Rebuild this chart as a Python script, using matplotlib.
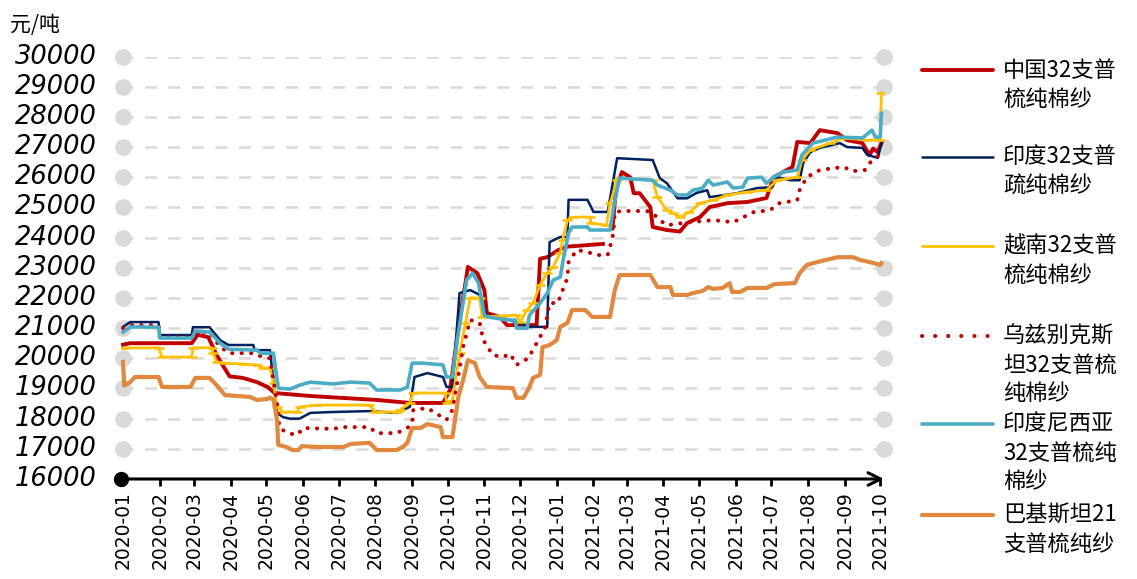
import numpy as np
import pandas as pd
import matplotlib
matplotlib.use("Agg")
import matplotlib.pyplot as plt
import matplotlib.dates as mdates
from matplotlib.lines import Line2D
from matplotlib import font_manager as fm

plt.rcParams['font.family'] = ['Noto Sans CJK SC', 'DejaVu Sans']

# ---- data (元/吨) ----
china_32 = [("2020-01-01", 20450), ("2020-01-07", 20500), ("2020-02-28", 20500), ("2020-03-04", 20780),
            ("2020-03-13", 20700), ("2020-03-20", 20100), ("2020-03-27", 19650), ("2020-03-31", 19400),
            ("2020-04-11", 19350), ("2020-04-23", 19210), ("2020-05-02", 19050), ("2020-05-08", 18850),
            ("2020-05-29", 18780), ("2020-06-07", 18750), ("2020-08-02", 18620), ("2020-08-30", 18520),
            ("2020-09-27", 18520), ("2020-10-03", 18950), ("2020-10-11", 21270), ("2020-10-16", 22490),
            ("2020-10-18", 23030), ("2020-10-26", 22820), ("2020-11-01", 22260), ("2020-11-03", 21500),
            ("2020-11-14", 21370), ("2020-11-20", 21100), ("2020-12-15", 21100), ("2020-12-18", 23300),
            ("2020-12-24", 23350), ("2021-01-02", 23580), ("2021-01-10", 23700), ("2021-02-09", 23790),
            ("2021-02-13", np.nan), ("2021-02-17", 24300), ("2021-02-20", 25600), ("2021-02-25", 26170),
            ("2021-03-04", 26000), ("2021-03-07", 25470), ("2021-03-12", 25470), ("2021-03-21", 25010),
            ("2021-03-23", 24350), ("2021-04-04", 24250), ("2021-04-15", 24200), ("2021-04-21", 24480),
            ("2021-05-02", 24680), ("2021-05-10", 25010), ("2021-05-25", 25140), ("2021-06-11", 25180),
            ("2021-06-27", 25310), ("2021-07-03", 26000), ("2021-07-19", 26340), ("2021-07-23", 27170),
            ("2021-08-03", 27130), ("2021-08-11", 27560), ("2021-08-26", 27460), ("2021-09-03", 27230),
            ("2021-09-16", 27130), ("2021-09-22", 26730), ("2021-09-25", 26950), ("2021-09-29", 26830),
            ("2021-10-02", 27130)]

india_32 = [("2020-01-01", 21040), ("2020-01-07", 21200), ("2020-01-31", 21200), ("2020-02-01", 20770),
            ("2020-02-28", 20770), ("2020-02-29", 21030), ("2020-03-14", 21030), ("2020-03-23", 20600),
            ("2020-03-30", 20440), ("2020-04-20", 20440), ("2020-04-21", 20270), ("2020-05-04", 20270),
            ("2020-05-10", 18190), ("2020-05-15", 18050), ("2020-05-21", 18000), ("2020-05-29", 18000),
            ("2020-06-07", 18190), ("2020-06-26", 18220), ("2020-07-27", 18250), ("2020-08-19", 18190),
            ("2020-08-30", 18390), ("2020-09-03", 19380), ("2020-09-14", 19510), ("2020-09-27", 19380),
            ("2020-09-30", 19050), ("2020-10-05", 19050), ("2020-10-11", 22160), ("2020-10-20", 22260),
            ("2020-10-28", 22100), ("2020-11-03", 21400), ("2020-11-20", 21300), ("2020-12-09", 21040),
            ("2020-12-24", 21040), ("2020-12-26", 23850), ("2021-01-04", 24020), ("2021-01-10", 24020),
            ("2021-01-11", 25250), ("2021-01-27", 25250), ("2021-02-01", 24850), ("2021-02-13", 24850),
            ("2021-02-21", 26630), ("2021-03-23", 26570), ("2021-03-29", 25970), ("2021-04-04", 25800),
            ("2021-04-13", 25300), ("2021-04-21", 25300), ("2021-04-29", 25480), ("2021-05-08", 25570),
            ("2021-05-10", 25340), ("2021-06-02", 25470), ("2021-06-19", 25640), ("2021-07-02", 25670),
            ("2021-07-06", 26000), ("2021-07-17", 25900), ("2021-07-25", 25900), ("2021-07-28", 26470),
            ("2021-08-03", 26830), ("2021-08-11", 26970), ("2021-08-28", 27130), ("2021-09-03", 27000),
            ("2021-09-16", 26970), ("2021-09-20", 26740), ("2021-09-29", 26640), ("2021-10-02", 27130)]

vietnam_32 = [("2020-01-01", 20340), ("2020-01-31", 20350), ("2020-02-03", 20040), ("2020-02-28", 20040),
              ("2020-02-29", 20350), ("2020-03-16", 20350), ("2020-03-17", 20170), ("2020-03-20", 19880),
              ("2020-03-27", 19840), ("2020-04-11", 19810), ("2020-04-23", 19780), ("2020-04-28", 19680),
              ("2020-05-04", 19680), ("2020-05-07", 19180), ("2020-05-10", 18390), ("2020-05-15", 18220),
              ("2020-05-27", 18220), ("2020-05-29", 18390), ("2020-06-13", 18450), ("2020-07-27", 18450),
              ("2020-08-01", 18220), ("2020-08-19", 18220), ("2020-08-22", 18300), ("2020-08-30", 18520),
              ("2020-09-02", 18850), ("2020-09-29", 18850), ("2020-09-30", 18520), ("2020-10-05", 18600),
              ("2020-10-11", 20170), ("2020-10-16", 21170), ("2020-10-20", 22000), ("2020-10-28", 22000),
              ("2020-10-30", 21370), ("2020-11-14", 21400), ("2020-11-28", 21430), ("2020-12-01", 21200),
              ("2020-12-07", 21600), ("2020-12-12", 21830), ("2020-12-18", 22430), ("2020-12-24", 22820),
              ("2020-12-29", 23030), ("2021-01-04", 23490), ("2021-01-06", 23920), ("2021-01-10", 24580),
              ("2021-01-15", 24680), ("2021-01-29", 24680), ("2021-01-30", 24480), ("2021-02-12", 24410),
              ("2021-02-15", 25140), ("2021-02-21", 25900), ("2021-02-23", 25970), ("2021-03-23", 25900),
              ("2021-03-27", 25340), ("2021-04-04", 24910), ("2021-04-09", 24810), ("2021-04-15", 24680),
              ("2021-04-23", 24840), ("2021-05-02", 25140), ("2021-05-13", 25240), ("2021-05-25", 25410),
              ("2021-06-11", 25510), ("2021-06-27", 25570), ("2021-07-06", 25900), ("2021-07-23", 26000),
              ("2021-07-27", 26570), ("2021-08-03", 26900), ("2021-08-20", 27130), ("2021-08-31", 27300),
              ("2021-09-20", 27230), ("2021-10-01", 27230), ("2021-10-02", 28790)]

uzbek_32 = [("2020-01-01", 21000), ("2020-01-07", 21100), ("2020-01-31", 21100), ("2020-02-01", 20700),
            ("2020-02-28", 20700), ("2020-03-03", 20870), ("2020-03-14", 20870), ("2020-03-23", 20370),
            ("2020-03-31", 20170), ("2020-04-20", 20170), ("2020-04-28", 20040), ("2020-05-04", 20000),
            ("2020-05-10", 18520), ("2020-05-12", 17690), ("2020-05-19", 17520), ("2020-05-27", 17460),
            ("2020-06-01", 17690), ("2020-06-26", 17660), ("2020-07-05", 17720), ("2020-07-27", 17720),
            ("2020-08-02", 17520), ("2020-08-19", 17520), ("2020-08-28", 17690), ("2020-09-01", 17850),
            ("2020-09-02", 18290), ("2020-09-14", 18350), ("2020-09-30", 17960), ("2020-10-05", 18290),
            ("2020-10-09", 19180), ("2020-10-14", 20370), ("2020-10-20", 21270), ("2020-10-28", 21170),
            ("2020-10-31", 20600), ("2020-11-08", 20110), ("2020-11-16", 20040), ("2020-11-23", 20140),
            ("2020-11-28", 19780), ("2020-12-08", 20000), ("2020-12-15", 20500), ("2020-12-22", 21000),
            ("2020-12-26", 21830), ("2021-01-02", 21830), ("2021-01-05", 22160), ("2021-01-10", 22660),
            ("2021-01-11", 23190), ("2021-01-18", 23590), ("2021-01-27", 23520), ("2021-02-04", 23420),
            ("2021-02-13", 23420), ("2021-02-17", 23980), ("2021-02-18", 24250), ("2021-02-19", 24850),
            ("2021-02-26", 24880), ("2021-03-18", 24880), ("2021-03-23", 24810), ("2021-03-29", 24580),
            ("2021-04-04", 24410), ("2021-04-23", 24510), ("2021-05-13", 24580), ("2021-05-30", 24510),
            ("2021-06-16", 24840), ("2021-06-30", 24910), ("2021-07-08", 25140), ("2021-07-23", 25240),
            ("2021-07-25", 25570), ("2021-07-31", 26000), ("2021-08-11", 26240), ("2021-08-31", 26340),
            ("2021-09-08", 26200), ("2021-09-18", 26240), ("2021-09-22", 26470), ("2021-10-02", 26800)]

indonesia_32 = [("2020-01-01", 20870), ("2020-01-07", 21040), ("2020-01-31", 21030), ("2020-02-01", 20670),
                ("2020-02-28", 20670), ("2020-03-02", 20900), ("2020-03-14", 20870), ("2020-03-23", 20500),
                ("2020-03-30", 20300), ("2020-04-23", 20270), ("2020-04-26", 20170), ("2020-05-07", 20170),
                ("2020-05-11", 19010), ("2020-05-21", 18980), ("2020-05-29", 19110), ("2020-06-07", 19210),
                ("2020-06-26", 19150), ("2020-07-11", 19210), ("2020-07-27", 19180), ("2020-08-02", 18950),
                ("2020-08-22", 18950), ("2020-08-28", 19050), ("2020-09-01", 19840), ("2020-09-10", 19840),
                ("2020-09-27", 19780), ("2020-09-30", 19380), ("2020-10-05", 19380), ("2020-10-09", 20600),
                ("2020-10-17", 22590), ("2020-10-22", 22820), ("2020-10-27", 22490), ("2020-11-01", 21430),
                ("2020-11-04", 21370), ("2020-11-20", 21270), ("2020-11-27", 21270), ("2020-11-28", 21000),
                ("2020-12-07", 21000), ("2020-12-09", 21430), ("2020-12-18", 21830), ("2020-12-24", 22160),
                ("2020-12-29", 22590), ("2021-01-04", 22690), ("2021-01-06", 23160), ("2021-01-11", 24150),
                ("2021-01-14", 24350), ("2021-01-27", 24350), ("2021-01-29", 24250), ("2021-02-15", 24250),
                ("2021-02-18", 25010), ("2021-02-23", 25970), ("2021-03-23", 25900), ("2021-03-27", 25740),
                ("2021-04-07", 25570), ("2021-04-13", 25410), ("2021-04-21", 25410), ("2021-04-26", 25570),
                ("2021-05-04", 25640), ("2021-05-09", 25900), ("2021-05-13", 25740), ("2021-05-25", 25840),
                ("2021-05-30", 25640), ("2021-06-07", 25670), ("2021-06-11", 25970), ("2021-06-23", 26000),
                ("2021-06-27", 25800), ("2021-07-03", 26000), ("2021-07-11", 26170), ("2021-07-23", 26240),
                ("2021-07-27", 26740), ("2021-08-05", 27130), ("2021-08-26", 27330), ("2021-09-16", 27300),
                ("2021-09-24", 27560), ("2021-09-27", 27330), ("2021-10-01", 27330), ("2021-10-02", 28120)]

pakistan_21 = [("2020-01-01", 19880), ("2020-01-02", 19100), ("2020-01-07", 19210), ("2020-01-11", 19380),
               ("2020-01-31", 19380), ("2020-02-03", 19050), ("2020-02-27", 19050), ("2020-03-02", 19350),
               ("2020-03-14", 19350), ("2020-03-20", 19110), ("2020-03-27", 18780), ("2020-04-17", 18720),
               ("2020-04-23", 18620), ("2020-05-02", 18650), ("2020-05-04", 18700), ("2020-05-07", 18620),
               ("2020-05-10", 17960), ("2020-05-11", 17130), ("2020-05-18", 17060), ("2020-05-23", 16960),
               ("2020-05-28", 16960), ("2020-05-31", 17090), ("2020-06-13", 17060), ("2020-07-05", 17060),
               ("2020-07-11", 17160), ("2020-07-27", 17200), ("2020-08-02", 16960), ("2020-08-19", 16960),
               ("2020-08-24", 17060), ("2020-08-28", 17200), ("2020-09-01", 17690), ("2020-09-08", 17690),
               ("2020-09-14", 17820), ("2020-09-25", 17720), ("2020-09-27", 17390), ("2020-10-05", 17390),
               ("2020-10-10", 18720), ("2020-10-14", 19280), ("2020-10-18", 19940), ("2020-10-24", 19840),
               ("2020-10-28", 19380), ("2020-11-03", 19050), ("2020-11-25", 19010), ("2020-11-28", 18690),
               ("2020-12-04", 18690), ("2020-12-09", 19050), ("2020-12-12", 19350), ("2020-12-18", 19450),
               ("2020-12-20", 20370), ("2020-12-26", 20440), ("2021-01-01", 20600), ("2021-01-04", 21040),
               ("2021-01-10", 21170), ("2021-01-14", 21600), ("2021-01-25", 21600), ("2021-01-31", 21370),
               ("2021-02-15", 21370), ("2021-02-19", 22260), ("2021-02-23", 22760), ("2021-03-21", 22760),
               ("2021-03-27", 22360), ("2021-04-07", 22360), ("2021-04-09", 22100), ("2021-04-21", 22100),
               ("2021-04-26", 22160), ("2021-05-04", 22230), ("2021-05-09", 22360), ("2021-05-13", 22300),
               ("2021-05-21", 22330), ("2021-05-27", 22490), ("2021-05-29", 22200), ("2021-06-05", 22200),
               ("2021-06-11", 22330), ("2021-06-27", 22330), ("2021-07-04", 22460), ("2021-07-21", 22490),
               ("2021-07-25", 22820), ("2021-07-31", 23090), ("2021-08-09", 23190), ("2021-08-26", 23350),
               ("2021-09-08", 23350), ("2021-09-14", 23260), ("2021-09-25", 23160), ("2021-10-01", 23090),
               ("2021-10-02", 23150)]

labels = ["中国32支普\n梳纯棉纱", "印度32支普\n疏纯棉纱", "越南32支普\n梳纯棉纱",
          "乌兹别克斯\n坦32支普梳\n纯棉纱", "印度尼西亚\n32支普梳纯\n棉纱", "巴基斯坦21\n支普梳纯纱"]
month_ticks = pd.date_range("2020-01-01", "2021-10-01", freq="MS")
y_ticks = list(range(16000, 30001, 1000))

# ---- styles ----
series = [
    (china_32, dict(color="#C00000", lw=2.8)),
    (india_32, dict(color="#002060", lw=1.8)),
    (vietnam_32, dict(color="#FFC000", lw=2.0, marker="_", ms=7, mew=1.8)),
    (uzbek_32, dict(color="#C00000", lw=2.9, ls=(0, (0.05, 2.3)), dash_capstyle="round")),
    (indonesia_32, dict(color="#4BACC6", lw=2.6)),
    (pakistan_21, dict(color="#E0883D", lw=3.0)),
]

fig = plt.figure(figsize=(11.37, 5.79), dpi=100)
ax = fig.add_axes([121 / 1137, 1 - 479 / 579, 763 / 1137, (479 - 56.5) / 579])

for data, style in series:
    d = pd.to_datetime([p[0] for p in data])
    v = [p[1] for p in data]
    ax.plot(d, v, solid_joinstyle="round", **style)

start = mdates.date2num(pd.Timestamp("2020-01-01"))
ax.set_xlim(start - 1.7, start + 642.2)
ax.set_ylim(16000, 30000)

# dashed grid with round end caps
grid_c = "#D9D9D9"
for y in y_ticks[1:]:
    ax.axhline(y, color=grid_c, lw=1.8, dashes=(4.8, 4.6), zorder=0.5)
    ax.plot([0.003, 1.0], [y, y], "o", color=grid_c, ms=11,
            transform=ax.get_yaxis_transform(), clip_on=False, zorder=0.6)

for s in ax.spines.values():
    s.set_visible(False)

# x axis line with dot and arrow
ax.annotate("", xy=(1.0, 0), xytext=(0.0, 0), xycoords="axes fraction",
            arrowprops=dict(arrowstyle="->,head_length=0.9,head_width=0.45", color="black", lw=2.2,
                            shrinkA=0, shrinkB=0))
ax.plot([0], [0], "o", color="black", ms=10, transform=ax.transAxes, clip_on=False, zorder=5)

xfont = fm.FontProperties(family="DejaVu Sans", size=13.5)
yfont = fm.FontProperties(family="DejaVu Sans", style="italic", size=18.5)

ax.tick_params(axis="x", length=5, width=2, color="black", pad=4)
ax.tick_params(axis="y", length=0, labelleft=False)
ax.set_xticks(month_ticks)
ax.set_xticklabels([t.strftime("%Y-%m") for t in month_ticks], rotation=90, fontproperties=xfont)
ax.set_yticks(y_ticks)

# italic value labels left of the plot
for y in y_ticks:
    ax.text(-24 / 763, y, str(y), transform=ax.get_yaxis_transform(), ha="right", va="center",
            fontproperties=yfont, clip_on=False)

fig.text(10 / 1137, 1 - 25 / 579, "元/吨", fontsize=15, va="center", ha="left")

# legend, drawn by hand to keep the tall label blocks
leg_y = [70, 157, 246, 336, 424, 515]
for (data, style), lab, yp in zip(series, labels, leg_y):
    yf = 1 - yp / 579
    st = dict(style)
    st.pop("marker", None)
    if "ls" in st:
        st["ls"] = (0, (0.05, 3.2))
    h = Line2D([922 / 1137, 993 / 1137], [yf, yf], transform=fig.transFigure, solid_capstyle="round", **st)
    fig.add_artist(h)
    for i, line in enumerate(lab.split("\n")):
        fig.text(1003 / 1137, 1 - (yp + 29 * i) / 579, line, fontsize=16, va="center", ha="left")

fig.savefig("out.png", dpi=100)
